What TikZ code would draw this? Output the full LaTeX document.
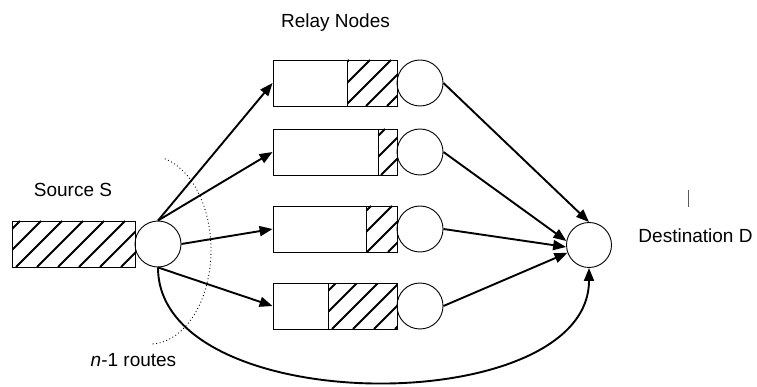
\documentclass[tikz,border=0pt]{standalone}
\usepackage{fontspec}
\setmainfont{Liberation Sans}
\usetikzlibrary{arrows.meta}
\tikzset{
  x=1pt, y=-1pt,
  lbl/.style={font=\fontsize{19}{22}\selectfont, inner sep=0pt, anchor=base},
  boxshape/.style={draw, line width=0.9pt, rectangle, minimum width=124pt, minimum height=46pt, inner sep=0pt},
  nodecirc/.style={draw, line width=0.9pt, circle, minimum size=46pt, inner sep=0pt},
  hatchline/.style={line width=1.9pt},
  flow/.style={line width=1.9pt, -{Triangle[length=13pt,width=10pt]}},
  routes/.style={line width=0.9pt, dash pattern=on 0.9pt off 2.6pt}
}
\newcommand{\hatchrect}[5]{% x1 y1 x2 y2 clist
  \begin{scope}
    \clip (#1,#2) rectangle (#3,#4);
    \foreach \c in {#5} {\draw[hatchline] ({\c-#4},#4) -- ({\c-#2},#2);}
  \end{scope}}
\begin{document}
\begin{tikzpicture}
\useasboundingbox (0,0) rectangle (757,387);

% texts
\node[lbl] (tRelay) at (335.5,28) {Relay Nodes};
\node[lbl] (tSrc) at (73,197) {Source S};
\node[lbl] (tDst) at (695.5,243) {Destination D};
\node[lbl] (tRoutes) at (133.5,366) {\textit{n}-1 routes};
\coordinate (cur1) at (688,190);
\coordinate (cur2) at (688,207);
\draw[line width=0.9pt, black!65] (cur1) -- (cur2);

% source
\hatchrect{12}{221}{135}{267}{220,241,...,409}
\node[boxshape, minimum width=123pt] (src) at (73.5,244) {};
\node[nodecirc] (S) at (158,244) {};

% relay rows
\hatchrect{347}{60}{397}{106}{388,409,...,514}
\hatchrect{378}{129}{397}{175}{493,514,...,577}
\hatchrect{366}{206}{397}{252}{556,577,...,661}
\hatchrect{328}{283}{397}{329}{598,619,...,745}

\node[boxshape] (r1) at (335,83) {};
\node[boxshape] (r2) at (335,152) {};
\node[boxshape] (r3) at (335,229) {};
\node[boxshape] (r4) at (335,306) {};
\draw[line width=0.9pt] (347,60) -- (347,106);
\draw[line width=0.9pt] (378,129) -- (378,175);
\draw[line width=0.9pt] (366,206) -- (366,252);
\draw[line width=0.9pt] (328,283) -- (328,329);

\node[nodecirc] (c1) at (420,83) {};
\node[nodecirc] (c2) at (420,152) {};
\node[nodecirc] (c3) at (420,229) {};
\node[nodecirc] (c4) at (420,306) {};

\node[nodecirc, minimum size=45pt] (D) at (589,245) {};

% dotted routes arc
\draw[routes] plot[domain=-76:88, samples=80] ({150+61*cos(\x)}, {250+94*sin(\x)});

% connectors
\draw[flow] (S.north) -- (r1.west);
\draw[flow] (S.north) -- (r2.west);
\draw[flow] (S.east) -- (r3.west);
\draw[flow] (S.south) -- (r4.west);

\draw[flow] (c1.east) -- (D.north);
\draw[flow] (c2.east) -- (D.170);
\draw[flow] (c3.east) -- (D.185);
\draw[flow] (c4.east) -- (D.200);

\draw[flow] (S.south) .. controls (158,420) and (589,420) .. (D.south);
\end{tikzpicture}
\end{document}
